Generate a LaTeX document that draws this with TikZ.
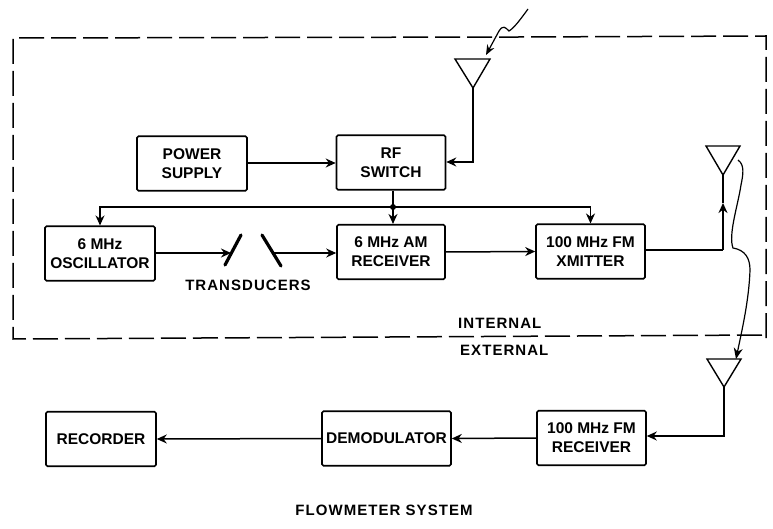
\documentclass[tikz,border=0pt]{standalone}
\usepackage{fontspec}
\setmainfont{Liberation Sans}
\usetikzlibrary{arrows.meta,calc}
\tikzset{
  x=1pt,y=-1pt,
  blk/.style={draw,line width=1.6pt,rounded corners=1.5pt,inner sep=0pt,align=center,font=\lbl,
    minimum width=#1,minimum height=54.5pt},
  lab/.style={inner sep=0pt,font=\lblw},
  conn/.style={line width=1.5pt,-{Stealth[length=10pt,width=9pt]}},
  wire/.style={line width=1.5pt},
  ant/.style={draw,line width=1.4pt,line join=miter},
  frame/.style={line width=1.5pt,dash pattern=on 25pt off 7pt}
}
\newcommand{\lbl}{\fontsize{15.5}{19}\selectfont\bfseries}
\newcommand{\lblw}{\fontsize{15}{19}\selectfont\bfseries\addfontfeature{LetterSpace=7}}
\begin{document}
\begin{tikzpicture}
\useasboundingbox (0,0) rectangle (773,529);
\fill[white] (0,0) rectangle (773,529);
% frame
\draw[frame] (766,338) -- (766,36) -- (520,37) -- (13,38) -- (13,339) -- (766,335);
% boxes
\node[blk=110pt] (ps) at (192,163.5) {POWER\\SUPPLY};
\node[blk=109pt] (rf) at (391,162.5) {RF\\SWITCH};
\node[blk=110pt] (osc) at (100,253.5) {6 MHz\\OSCILLATOR};
\node[blk=108pt] (am) at (391,252) {6 MHz AM\\RECEIVER};
\node[blk=109pt] (fm) at (590.5,251.5) {100 MHz FM\\XMITTER};
\node[blk=109pt] (frx) at (591.5,438) {100 MHz FM\\RECEIVER};
\node[blk=129pt] (dem) at (386.5,438.5) {DEMODULATOR};
\node[blk=110pt] (rec) at (101,439) {RECORDER};
% labels
\node[lab] (tr) at (248,285) {TRANSDUCERS};
\node[lab,anchor=west] (int) at (458,323) {INTERNAL};
\node[lab,anchor=west] (ext) at (460,350) {EXTERNAL};
\node[lab] (title) at (384,510) {FLOWMETER SYSTEM};
% antennas
\coordinate (a1) at (473,88);
\coordinate (a2) at (723,175);
\coordinate (a3) at (724,387);
\draw[ant] (455,59) -- (490,59) -- (a1) -- cycle;
\draw[ant] (706,146) -- (740,146) -- (a2) -- cycle;
\draw[ant] (707,359) -- (741,359) -- (a3) -- cycle;
% radio link
\coordinate (z0) at (528,9);
\coordinate (z1) at (486,55);
\draw[line width=1.2pt,-{Stealth[length=10pt,width=8pt]}] (z0) .. controls (520,20) and (514,28) .. (509,31)
  .. controls (505,27) and (503,25) .. (499,31) -- (z1);
% connectors
\draw[conn] (ps.east |- 0,163) -- (rf.west |- 0,163);
\draw[conn] (a1) |- (rf.east |- 0,162);
\coordinate (j) at (393,207);
\draw[wire] (j |- rf.south) -- (j);
\fill (j) circle (3pt);
\draw[conn] (j) -- (j |- am.north);
\draw[conn] (j) -| (osc.north);
\draw[conn] (j) -| (fm.north);
\coordinate (t1a) at (225,265);
\coordinate (t1b) at (241,235);
\coordinate (t2a) at (262,235);
\coordinate (t2b) at (281,266);
\draw[line width=3.2pt,line cap=round] (t1a) -- (t1b);
\draw[line width=3.2pt,line cap=round] (t2a) -- (t2b);
\coordinate (t1m) at (231,253);
\coordinate (t2m) at (273.5,253);
\draw[conn] (osc.east |- t1m) -- (t1m);
\draw[conn,line width=1.2pt] (t2m) -- (am.west |- t2m);
\draw[conn] (am.east) -- (fm.west);
\coordinate (tap) at (723,250);
\draw[wire] (fm.east |- tap) -- (tap);
\draw[line width=2pt,-{Stealth[length=10pt,width=9pt]}] (tap) -- (723,203);
\draw[line width=2pt] (723,203) -- (a2);
\draw[line width=1.2pt,-{Stealth[length=11pt,width=9pt]}] (738,160)
  .. controls (745,165) and (743,175) .. (741,185)
  .. controls (738,205) and (728,235) .. (733,248)
  .. controls (745,250) and (750,258) .. (750,270)
  .. controls (749,300) and (742,330) .. (736,359);
\coordinate (rxc) at (724,436);
\draw[conn] (a3) -- (rxc) -- (frx.east |- rxc);
\draw[conn] (frx.west) -- (dem.east);
\draw[conn] (dem.west) -- (rec.east);
\end{tikzpicture}
\end{document}
